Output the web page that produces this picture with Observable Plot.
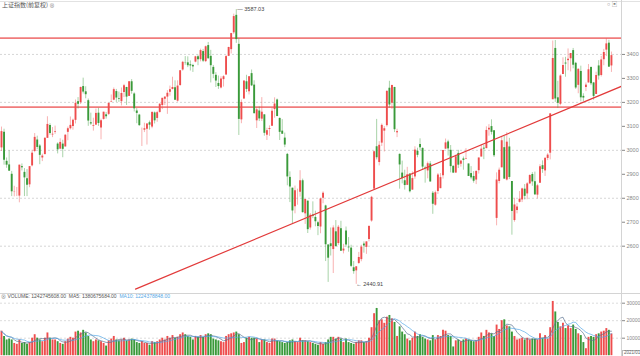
<!DOCTYPE html>
<html><head><meta charset="utf-8">
<script src="https://cdn.jsdelivr.net/npm/d3@7"></script>
<script src="https://cdn.jsdelivr.net/npm/@observablehq/plot@0.6"></script>
<style>
html,body{margin:0;padding:0;background:#fff;}
#wrap{position:relative;width:640px;height:356px;overflow:hidden;background:#fff;font-family:"Liberation Sans","Noto Sans CJK SC",sans-serif;}
.abs{position:absolute;white-space:nowrap;line-height:1;}
#wrap svg{position:absolute;left:0;overflow:visible;}
</style></head><body><div id="wrap"></div>
<script>
// ---- data (weekly candles, Shanghai Composite) ----
const opens=[3010,3075,2954,2939,2900,2824,2822,2809,2932,2908,
2881,2856,2935,2995,3043,3018,2968,2982,3050,3104,
3064,3075,3026,3005,3026,3014,3075,3090,3099,3125,
3203,3199,3266,3244,3207,3115,3100,3105,3155,3093,
3129,3148,3150,3200,3209,3245,3215,3203,3241,3262,
3225,3286,3235,3164,3147,3083,3084,3088,3115,3097,
3156,3133,3158,3187,3213,3222,3242,3254,3261,3205,
3270,3335,3366,3365,3357,3354,3368,3390,3378,3412,
3370,3437,3392,3346,3313,3279,3260,3295,3314,3392,
3420,3490,3563,3442,3127,3214,3286,3244,3320,3272,
3123,3164,3130,3148,3063,3087,3100,3170,3210,3133,
3080,3051,2983,2887,2842,2765,2829,2825,2873,2735,
2788,2676,2730,2720,2698,2680,2800,2768,2605,2610,
2586,2660,2611,2673,2580,2663,2596,2592,2510,2497,
2528,2544,2609,2595,2628,2705,2838,3015,2949,3030,
3080,3103,3259,3196,3262,3073,2983,2905,2873,2854,
2901,2834,2889,2996,3024,3008,2926,2914,2943,2821,
2771,2828,2840,2894,3005,3035,3000,2933,2905,2987,
2942,2964,2962,2943,2903,2891,2876,2915,2972,3009,
3007,3085,3099,3082,2716,2870,2927,3011,2876,3014,
2870,2707,2749,2783,2793,2838,2818,2860,2899,2869,
2813,2863,2936,2914,2966,2988,3211,3425,3219,3192,
3316,3364,3374,3382,3416,3363,3271,3329,3225,3262,
3281,3346,3281,3233,3352,3312,3378,3418,3447,3352];
const highs=[3097,3088,2968,2998,2912,2850,2845,2938,2943,2924,
2920,2932,3000,3070,3059,3024,2984,3053,3140,3111,
3095,3101,3031,3048,3042,3065,3097,3139,3130,3210,
3220,3264,3301,3265,3214,3155,3134,3172,3175,3130,
3159,3158,3196,3231,3260,3254,3243,3260,3275,3263,
3287,3295,3240,3174,3150,3093,3113,3111,3122,3161,
3160,3163,3195,3217,3223,3249,3268,3305,3290,3290,
3333,3371,3391,3390,3373,3359,3392,3397,3422,3421,
3435,3450,3417,3354,3324,3310,3307,3311,3395,3430,
3488,3568,3587.03,3464,3210,3290,3313,3308,3335,3290,
3178,3181,3220,3148,3092,3102,3176,3219,3214,3135,
3128,3072,2987,2910,2842,2851,2838,2915,2880,2795,
2788,2736,2785,2746,2704,2800,2827,2771,2606,2676,
2685,2707,2686,2704,2608,2680,2636,2604,2536,2515,
2574,2604,2618,2618,2686,2808,2997,3129,3036,3110,
3099,3248,3288,3272,3263,3088,2985,2955,2917,2929,
2902,2910,3015,3009,3048,3010,2934,2951,2953,2828,
2830,2903,2903,3000,3047,3042,3020,2936,2980,3000,
2958,2972,3007,2943,2932,2911,2914,2968,3022,3021,
3098,3107,3127,3082,2906,2926,3058,3058,3074,3050,
2870,2800,2778,2828,2842,2857,2865,2898,2907,2909,
2858,2940,2956,2967,2986,3153,3456,3458,3288,3315,
3386,3388,3423,3404,3425,3367,3340,3351,3236,3281,
3358,3348,3283,3326,3374,3392,3421,3465,3459,3410];
const lows=[2995,2938,2925,2912,2807,2806,2807,2781,2914,2807,
2807,2844,2931,2990,3003,2940,2953,2982,3050,3063,
3053,3067,2985,3003,2969,3014,3040,3085,3084,3110,
3172,3191,3235,3215,3100,3104,3080,3105,3100,3044,
3126,3130,3145,3199,3207,3200,3200,3185,3220,3187,
3225,3234,3160,3111,3100,3016,3074,3022,3084,3090,
3110,3117,3155,3170,3187,3150,3226,3252,3208,3201,
3268,3330,3355,3345,3331,3325,3365,3353,3369,3366,
3366,3380,3281,3299,3262,3254,3256,3264,3314,3391,
3402,3483,3446,3062,3111,3213,3241,3231,3266,3151,
3091,3120,3120,3059,3041,3058,3100,3134,3140,3041,
3067,3011,2852,2782,2691,2735,2771,2805,2738,2691,
2653,2667,2715,2681,2644,2652,2777,2536,2449,2559,
2486,2597,2603,2578,2568,2596,2575,2511,2483,2440.91,
2524,2535,2571,2566,2618,2700,2838,2960,2935,3016,
2993,3097,3176,3170,3074,3053,2838,2860,2834,2853,
2822,2833,2879,2969,2999,2917,2863,2881,2867,2733,
2767,2816,2840,2880,3003,2976,2906,2903,2905,2924,
2930,2917,2961,2891,2877,2863,2857,2901,2972,2961,
3007,3059,3064,2970,2685,2860,2927,2878,2872,2878,
2646,2700,2735,2780,2782,2793,2794,2857,2850,2813,
2797,2863,2904,2891,2957,2960,3211,3200,3175,3186,
3316,3305,3332,3327,3340,3254,3236,3203,3202,3245,
3281,3270,3209,3233,3293,3306,3353,3391,3346,3325];
const closes=[3078,2959,2938,2913,2827,2825,2822,2938,2927,2885,
2854,2932,2988,3054,3012,2979,2976,3050,3108,3070,
3067,3078,3002,3033,3004,3063,3090,3104,3125,3196,
3192,3262,3243,3232,3122,3110,3103,3154,3112,3123,
3159,3140,3196,3202,3253,3218,3212,3237,3269,3222,
3286,3246,3173,3154,3103,3083,3090,3110,3105,3158,
3123,3157,3192,3217,3222,3238,3253,3262,3209,3268,
3332,3367,3365,3353,3352,3348,3390,3378,3416,3372,
3432,3382,3353,3317,3289,3266,3297,3307,3391,3429,
3487,3558,3462,3129,3199,3289,3254,3307,3269,3153,
3169,3131,3159,3071,3082,3091,3163,3193,3141,3075,
3067,3022,2889,2847,2747,2831,2829,2873,2740,2795,
2669,2729,2725,2702,2682,2797,2821,2606,2550,2598,
2676,2598,2679,2579,2588,2605,2593,2516,2494,2514,
2553,2596,2601,2618,2682,2804,2994,2969,3021,3104,
3090,3246,3189,3270,3086,3078,2939,2882,2853,2898,
2827,2882,3001,2979,3011,2930,2924,2944,2868,2775,
2823,2897,2886,2999,3031,3006,2932,2905,2973,2938,
2955,2958,2964,2891,2885,2871,2912,2968,3005,3005,
3083,3092,3075,2977,2876,2917,3040,2880,3034,2887,
2745,2772,2764,2796,2839,2808,2860,2895,2868,2814,
2852,2931,2920,2967,2980,3152,3383,3214,3196,3310,
3354,3360,3380,3404,3355,3260,3338,3219,3218,3272,
3336,3278,3225,3312,3310,3377,3408,3444,3347,3395];
const volumes=[14000,11000,9000,9500,9000,7000,6500,9000,7000,7500,
6500,7500,10000,12000,10000,9000,8000,10000,13000,10000,
9000,9000,8000,7000,6500,8000,9500,10500,10000,13500,
14000,13000,14500,13000,11000,9000,8000,9000,8500,8000,
7000,5500,8500,9500,11000,9000,8500,9000,10000,8500,
9000,9500,9000,7500,7000,8000,7000,7000,6000,8000,
7500,8000,9000,10000,9000,11000,10000,11500,10000,10500,
12000,13000,12000,11000,10500,9000,11000,10500,11500,10500,
12000,12500,12000,9500,9000,8500,8000,7500,11000,12000,
12500,13000,13500,12000,7000,7500,10000,10500,10000,10000,
9500,7500,9000,9000,7500,7000,9500,9500,8500,8000,
7500,7000,7500,8500,9000,8000,7500,10000,8500,8500,
8000,7500,7000,6500,6000,7500,6500,7500,9000,10500,
10500,9500,10500,9500,7500,9500,7500,7000,6500,7500,
8500,8500,7500,8000,10000,16000,24000,27000,20000,20500,
18500,22000,23000,21000,19000,11000,16500,13500,12000,9500,
8500,10000,13500,11000,12000,10500,9500,9000,8500,11500,
9000,11500,11000,14500,14000,11500,11000,5000,8500,9000,
8000,9000,9500,9000,8500,8000,8500,10500,13000,11000,
14500,13000,12500,11000,17500,15000,20000,20500,17000,16500,
13500,11000,9000,9500,10000,9000,10000,9000,9500,9500,
9000,12500,10000,11500,9500,16000,31000,25000,19000,16500,
18500,15500,17000,15500,17500,15000,12500,11500,7500,4000,
10500,11000,10500,12000,12500,13500,14000,15500,14500,12427];

const title="上证指数(前复权)";
const priceTicks=[2600,2700,2800,2900,3000,3100,3200,3300,3400];
const priceGrid=[2600,2800,3000,3200,3400];
const resistanceLevels=[3468,3180];
const trendPoints=[{i:52.5,v:2421},{i:242.9,v:3267}];
const volTicks=[10000,20000,30000];
const legendVolume="1242745608.00", legendMA5="1380675684.00", legendMA10="1224378848.00";
const cornerDate="2021/01";

// ---- build ----
const data=opens.map((o,i)=>({i,open:o,high:highs[i],low:lows[i],close:closes[i],volume:volumes[i],up:closes[i]>=o}));
const RED="#ee4d4d", GREEN="#3a9a3a", MA5C="#5b7390", MA10C="#55a7e6";
const xDomain=[-0.39,242.94];
const wrap=document.getElementById("wrap");
const hiIdx=d3.maxIndex(highs), loIdx=d3.minIndex(lows);

const price=Plot.plot({
  width:640,height:294,marginLeft:0,marginRight:19,marginTop:0,marginBottom:0,
  style:{background:"transparent",fontFamily:"Liberation Sans, sans-serif"},
  x:{type:"linear",domain:xDomain,axis:null},
  y:{domain:[2398.5,3625],axis:null},
  marks:[
    Plot.gridY(priceGrid,{stroke:"#d6d6d6",strokeOpacity:1,strokeDasharray:"2,2"}),
    Plot.axisY(priceTicks,{anchor:"right",tickSize:3,tickPadding:2,fontSize:5.5,color:"#888",label:null,tickFormat:d=>String(d)}),
    Plot.ruleY(resistanceLevels,{stroke:"#f07c7c",strokeWidth:1.8}),
    Plot.ruleX(data,{x:"i",y1:"low",y2:"high",stroke:d=>d.up?RED:GREEN,strokeOpacity:0.55,strokeWidth:0.8}),
    Plot.ruleX(data,{x:"i",y1:"open",y2:"close",stroke:d=>d.up?RED:GREEN,strokeWidth:1.9}),
    Plot.line(trendPoints,{x:"i",y:"v",stroke:"#e23a3a",strokeWidth:1.2,clip:true}),
    Plot.text([hiIdx],{x:d=>d,y:d=>highs[d],text:d=>"— "+highs[d].toFixed(2),textAnchor:"start",dx:1,fontSize:5.5,fill:"#444"}),
    Plot.text([loIdx],{x:d=>d,y:d=>lows[d],text:d=>"← "+lows[d].toFixed(2),textAnchor:"start",dx:0,fontSize:5.5,fill:"#444"})
  ]
});
price.style.top="0px";
wrap.appendChild(price);

const vol=Plot.plot({
  width:640,height:63,marginLeft:0,marginRight:19,marginTop:0,marginBottom:0,
  style:{background:"transparent",fontFamily:"Liberation Sans, sans-serif"},
  x:{type:"linear",domain:xDomain,axis:null},
  y:{domain:[-457,35543],axis:null},
  marks:[
    Plot.gridY(volTicks,{stroke:"#dcdcdc",strokeOpacity:1,strokeDasharray:"2,2"}),
    Plot.axisY(volTicks,{anchor:"right",tickSize:3,tickPadding:2,fontSize:5,color:"#888",label:null,tickFormat:d=>String(d)}),
    Plot.ruleX(data,{x:"i",y1:0,y2:"volume",stroke:d=>d.up?RED:GREEN,strokeWidth:1.9}),
    Plot.lineY(data,Plot.windowY({k:5,anchor:"end"},{x:"i",y:"volume",stroke:MA5C,strokeWidth:0.7})),
    Plot.lineY(data,Plot.windowY({k:10,anchor:"end"},{x:"i",y:"volume",stroke:MA10C,strokeWidth:0.7}))
  ]
});
vol.style.top="293px";
wrap.appendChild(vol);

function addDiv(css,html){const d=document.createElement("div");d.className="abs";d.style.cssText+=css;if(html!=null)d.innerHTML=html;wrap.appendChild(d);return d;}
// frame lines
addDiv("left:0;top:1px;width:640px;height:0;border-top:1px solid #e2e2e2;");
addDiv("left:0;top:293px;width:640px;height:0;border-top:1px solid #d4d4d4;");
addDiv("left:621px;top:0;width:0;height:356px;border-left:1px solid #d4d4d4;");
// title
addDiv("left:2px;top:2px;font-size:6px;color:#555;font-family:'Noto Sans CJK SC',sans-serif;",title+' <span style="font-size:5px;color:#777">⊗</span>');
addDiv("left:607px;top:2px;font-size:5.5px;color:#888;","○ ▣");
// volume legend
addDiv("left:1px;top:293.5px;font-size:5px;color:#555;",
  '<span style="color:#777">⊗</span> VOLUME: '+legendVolume+'&nbsp; MA5: '+legendMA5+'&nbsp; <span style="color:'+MA10C+'">MA10: '+legendMA10+'</span>');
addDiv("left:622px;top:350px;font-size:4.5px;color:#666;border:1px solid #bbb;padding:0 1px;background:#fff;",cornerDate);
</script></body></html>
